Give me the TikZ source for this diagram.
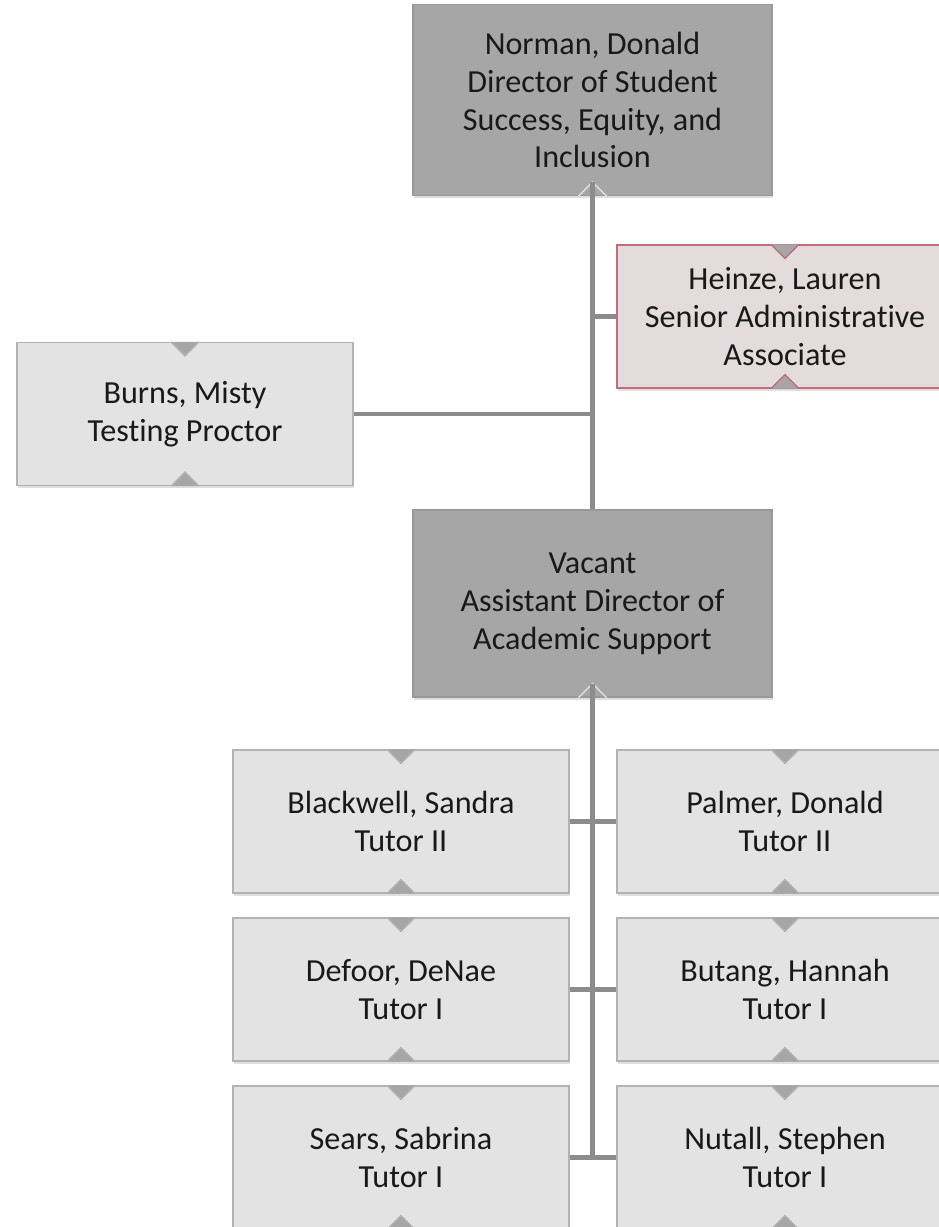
\documentclass[tikz,border=0pt]{standalone}
\usepackage{fontspec}
\setmainfont[Ligatures={NoCommon}]{Carlito}
\usetikzlibrary{shadows}

\definecolor{darkfill}{HTML}{A6A6A6}
\definecolor{darkline}{HTML}{999999}
\definecolor{lightfill}{HTML}{E3E3E3}
\definecolor{lightline}{HTML}{B3B3B3}
\definecolor{rosefill}{HTML}{E4DCDC}
\definecolor{roseline}{HTML}{BF6F7B}
\definecolor{connline}{HTML}{8C8C8C}

\begin{document}
\begin{tikzpicture}[x=0.02cm, y=-0.02cm]
    \tikzstyle{box}=[rectangle, align=center, text=black!90, line width=0.8pt,
        font=\fontsize{18.3}{21.6}\selectfont,
        drop shadow={shadow xshift=0.6pt, shadow yshift=-1.6pt, opacity=0.25}]
    \tikzstyle{darkbox}=[box, fill=darkfill, draw=darkline, minimum width=7.18cm]
    \tikzstyle{lightbox}=[box, fill=lightfill, draw=lightline, minimum width=6.72cm, minimum height=2.86cm]
    \tikzstyle{rosebox}=[lightbox, fill=rosefill, draw=roseline]
    \tikzstyle{conn}=[draw=connline, line width=2.3pt]
    \def\nw{14}

    \clip (0,0) rectangle (939,1227);
    \fill[white] (0,0) rectangle (939,1227);

    % leaders
    \node[darkbox, minimum height=3.82cm] (norman) at (592.5,100)
        {Norman, Donald\\Director of Student\\Success, Equity, and\\Inclusion};
    \node[darkbox, minimum height=3.74cm] (vacant) at (592.5,603.5)
        {Vacant\\Assistant Director of\\Academic Support};

    % staff
    \node[rosebox] (heinze) at (785,316.5) {Heinze, Lauren\\Senior Administrative\\Associate};
    \node[lightbox] (burns) at (185,414) {Burns, Misty\\Testing Proctor};

    % tutors
    \node[lightbox] (blackwell) at (401,821.5) {Blackwell, Sandra\\Tutor II};
    \node[lightbox] (palmer) at (785,821.5) {Palmer, Donald\\Tutor II};
    \node[lightbox] (defoor) at (401,989.5) {Defoor, DeNae\\Tutor I};
    \node[lightbox] (butang) at (785,989.5) {Butang, Hannah\\Tutor I};
    \node[lightbox] (sears) at (401,1157.5) {Sears, Sabrina\\Tutor I};
    \node[lightbox] (nutall) at (785,1157.5) {Nutall, Stephen\\Tutor I};

    % notches
    \foreach \n/\c in {heinze/roseline, burns/lightline, blackwell/lightline, palmer/lightline,
                       defoor/lightline, butang/lightline, sears/lightline, nutall/lightline} {
        \fill[darkfill] ([xshift=-\nw*0.02cm]\n.north) -- ([xshift=\nw*0.02cm]\n.north)
            -- ([yshift=-\nw*0.02cm]\n.north) -- cycle;
        \draw[\c, line width=0.8pt] ([xshift=-\nw*0.02cm]\n.north) -- ([yshift=-\nw*0.02cm]\n.north)
            -- ([xshift=\nw*0.02cm]\n.north);
        \fill[darkfill] ([xshift=-\nw*0.02cm]\n.south) -- ([xshift=\nw*0.02cm]\n.south)
            -- ([yshift=\nw*0.02cm]\n.south) -- cycle;
        \draw[\c, line width=0.8pt] ([xshift=-\nw*0.02cm]\n.south) -- ([yshift=\nw*0.02cm]\n.south)
            -- ([xshift=\nw*0.02cm]\n.south);
    }
    \foreach \n in {norman, vacant} {
        \draw[black!12, line width=0.8pt] ([xshift=-\nw*0.02cm]\n.south) -- ([yshift=\nw*0.02cm]\n.south)
            -- ([xshift=\nw*0.02cm]\n.south);
    }

    % connectors
    \draw[conn] ([yshift=\nw*0.02cm]norman.south) -- (vacant.north);
    \draw[conn] (heinze.west) -- (heinze.west -| norman.south);
    \draw[conn] (burns.east) -- (burns.east -| norman.south);
    \draw[conn] ([yshift=\nw*0.02cm]vacant.south) -- (vacant.south |- sears.east);
    \draw[conn] (blackwell.east) -- (palmer.west);
    \draw[conn] (defoor.east) -- (butang.west);
    \draw[conn] (sears.east) -- (nutall.west);
\end{tikzpicture}
\end{document}
